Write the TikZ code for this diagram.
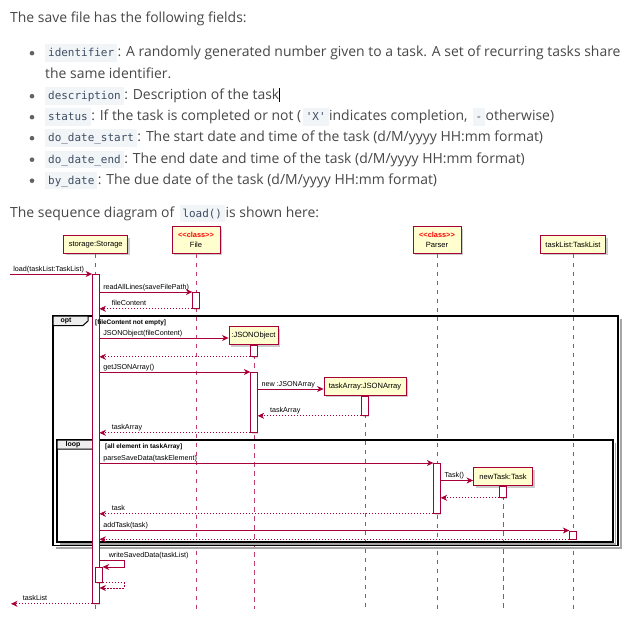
\documentclass[tikz,border=0pt]{standalone}
\usepackage{fontspec}
\newfontfamily\bodyfont{Open Sans}
\newfontfamily\codefont{DejaVu Sans Mono}
\newfontfamily\dfont{Liberation Sans}
\usetikzlibrary{arrows.meta,shadows}
\definecolor{txt}{HTML}{474747}
\definecolor{codebg}{HTML}{F2F5F8}
\definecolor{codetxt}{HTML}{3E4E62}
\definecolor{pred}{HTML}{A80036}
\definecolor{pfill}{HTML}{FEFECE}
\definecolor{tabfill}{HTML}{EEEEEE}
\newcommand\cd[1]{\kern1.5bp{\setlength{\fboxsep}{0pt}\colorbox{codebg}{\kern3bp\vrule height12.8bp depth4.8bp width0pt{\codefont\fontsize{11}{13}\selectfont\color{codetxt}#1}\kern3bp}}\kern0.5bp}
\newcommand\stereo{\bfseries\fontsize{7.4}{10}\selectfont\color{red}}
\begin{document}
\begin{tikzpicture}[x=1bp,y=-1bp,
  body/.style={anchor=base west, inner sep=0pt, font=\bodyfont\fontsize{14}{17}\selectfont, text=txt},
  bul/.style={circle, fill=txt!85, inner sep=0pt, minimum size=4.6bp},
  part/.style={draw=pred, fill=pfill, line width=0.9bp, inner sep=0pt, anchor=south,
    font=\dfont\fontsize{7.6}{10}\selectfont,
    drop shadow={shadow xshift=2bp, shadow yshift=-2bp, opacity=0.2, fill=black}},
  lifeline/.style={draw=pred!75, line width=0.6bp, dash pattern=on 4.5bp off 4.5bp},
  act/.style={draw=pred, fill=white, line width=0.8bp, minimum width=6.5bp, inner sep=0pt, anchor=north,
    drop shadow={shadow xshift=1.2bp, shadow yshift=-1.2bp, opacity=0.15, fill=black}},
  msg/.style={draw=pred, line width=0.8bp, -{Stealth[length=6.5bp,width=6bp,inset=2bp]}},
  ret/.style={msg, dash pattern=on 1.5bp off 1.5bp},
  lbl/.style={font=\dfont\fontsize{7.2}{8}\selectfont, anchor=base west, inner sep=0pt, text=black, xshift=3.5bp, yshift=3bp},
  rlbl/.style={lbl, xshift=8.5bp},
  frame/.style={draw=black, line width=1.4bp},
  fshadow/.style={draw=black!35, line width=2bp},
  tab/.style={draw=black, fill=tabfill, line width=1bp},
  ftitle/.style={font=\dfont\bfseries\fontsize{7}{8}\selectfont, inner sep=0pt},
  cond/.style={font=\dfont\bfseries\fontsize{6.5}{7}\selectfont, anchor=base west, inner sep=0pt}
]
\useasboundingbox (0,0) rectangle (635,638);
\fill[white] (0,0) rectangle (635,638);

% ---------- text ----------
\node[body] (t1) at (10,23) {The save file has the following fields:};
\node[bul] (b1) at (32,53.2) {};
\node[body] (t2) at (43.5,57) {\cd{identifier}: A randomly generated number given to a task. A set of recurring tasks share};
\node[body] (t3) at (45,78.5) {the same identifier.};
\node[bul] (b2) at (32,96.2) {};
\node[body] (t4) at (43.5,100) {\cd{description}: Description of the task{\color{black}\rule[-2bp]{0.8bp}{14bp}}};
\node[bul] (b3) at (32,117.2) {};
\node[body] (t5) at (43.5,121) {\cd{status}: If the task is completed or not (\cd{\textquotesingle X\textquotesingle} indicates completion, \cd{-} otherwise)};
\node[bul] (b4) at (32,138.2) {};
\node[body] (t6) at (43.5,142) {\cd{do\_date\_start}: The start date and time of the task (d/M/yyyy HH:mm format)};
\node[bul] (b5) at (32,159.7) {};
\node[body] (t7) at (43.5,163.5) {\cd{do\_date\_end}: The end date and time of the task (d/M/yyyy HH:mm format)};
\node[bul] (b6) at (32,180.7) {};
\node[body] (t8) at (43.5,184.5) {\cd{by\_date}: The due date of the task (d/M/yyyy HH:mm format)};
\node[body] (t9) at (10,217.5) {The sequence diagram of \cd{load()} is shown here:};

% ---------- diagram ----------
\coordinate (bot) at (0,609);

% participants
\node[part, minimum width=64bp, minimum height=17.5bp] (pS) at (95.75,253.5) {storage:Storage};
\node[part, minimum width=48bp, minimum height=26.5bp, align=center] (pF) at (196,253.5) {{\stereo <<class>>}\\File};
\node[part, minimum width=48bp, minimum height=26.5bp, align=center] (pP) at (437,253.5) {{\stereo <<class>>}\\Parser};
\node[part, minimum width=65bp, minimum height=17.5bp] (pL) at (573,253.5) {taskList:TaskList};
\node[part, minimum width=49bp, minimum height=18bp] (pJ) at (253.5,345) {:JSONObject};
\node[part, minimum width=82bp, minimum height=18bp] (pA) at (365,395.5) {taskArray:JSONArray};
\node[part, minimum width=59bp, minimum height=18bp] (pT) at (503,486) {newTask:Task};

% lifelines
\foreach \p in {pS,pF,pP,pL,pA,pT}
  \draw[lifeline] (\p.south) -- (\p.south |- bot);
\coordinate (jl) at (254,345);
\draw[lifeline] (jl) -- (jl |- bot);

% frames
\draw[fshadow] (56,548.2) -- (620.6,548.2) -- (620.6,319);
\draw[frame] (53,316) rectangle (618,545.5);
\draw[tab] (53,316) -- (88,316) -- (88,321) -- (83,325.5) -- (53,325.5) -- cycle;

\draw[fshadow, line width=1.5bp] (60,544) -- (615.5,544) -- (615.5,443);
\draw[frame] (57,440) rectangle (613,542);
\draw[tab] (57,440) -- (97,440) -- (97,444.5) -- (92,449) -- (57,449) -- cycle;

% activations
\node[act, minimum height=329bp] (aS) at (95.75,274) {};
\node[act, minimum height=16bp] (aF) at (196,292) {};
\node[act, minimum height=11bp] (aJ1) at (254,345) {};
\node[act, minimum height=60bp] (aJ2) at (254,372) {};
\node[act, minimum height=19.5bp] (aA) at (365,395.5) {};
\node[act, minimum height=50bp] (aP) at (437,463) {};
\node[act, minimum height=11bp] (aT) at (503,486) {};
\node[act, minimum height=8bp] (aL) at (573,530.5) {};
\node[act, minimum height=15bp] (aN) at (99,567) {};

% frame labels
\node[ftitle] (optL) at (66,321) {opt};
\node[cond] (optC) at (95,324) {[fileContent not empty]};
\node[ftitle] (loopL) at (73,445) {loop};
\node[cond] (loopC) at (105,448) {[all element in taskArray]};

% messages
\coordinate (in) at (10,274);
\draw[msg] (in) -- (aS.north west) node[lbl,pos=0,xshift=-0.5bp]{load(taskList:TaskList)};
\draw[msg] (aS.east |- aF.north) -- (aF.north west) node[lbl,pos=0]{readAllLines(saveFilePath)};
\draw[ret] (aF.south west) -- (aS.east |- aF.south) node[rlbl,pos=1]{fileContent};
\coordinate (y4) at (0,338);
\draw[msg] (aS.east |- y4) -- (pJ.west |- y4) node[lbl,pos=0]{JSONObject(fileContent)};
\draw[ret] (aJ1.south west) -- (aS.east |- aJ1.south);
\draw[msg] (aS.east |- aJ2.north) -- (aJ2.north west) node[lbl,pos=0]{getJSONArray()};
\coordinate (y7) at (0,389);
\draw[msg] (aJ2.east |- y7) -- (pA.west |- y7) node[lbl,pos=0]{new :JSONArray};
\draw[ret] (aA.south west) -- (aJ2.east |- aA.south) node[rlbl,pos=1]{taskArray};
\draw[ret] (aJ2.south west) -- (aS.east |- aJ2.south) node[rlbl,pos=1]{taskArray};
\draw[msg] (aS.east |- aP.north) -- (aP.north west) node[lbl,pos=0]{parseSaveData(taskElement)};
\coordinate (y11) at (0,480.5);
\draw[msg] (aP.east |- y11) -- (pT.west |- y11) node[lbl,pos=0]{Task()};
\draw[ret] (aT.south west) -- (aP.east |- aT.south);
\draw[ret] (aP.south west) -- (aS.east |- aP.south) node[rlbl,pos=1]{task};
\draw[msg] (aS.east |- aL.north) -- (aL.north west) node[lbl,pos=0]{addTask(task)};
\draw[ret] (aL.south west) -- (aS.east |- aL.south);
\coordinate (w1) at (124,560.7);
\draw[msg] (aS.east |- w1) node[lbl,xshift=5.5bp]{writeSavedData(taskList)} -- (w1) -- (w1 |- aN.north) -- (aN.north east);
\coordinate (w2) at (124,588);
\draw[ret] (aN.south east) -- (w2 |- aN.south) -- (w2) -- (aS.east |- w2);
\coordinate (out) at (11,602);
\draw[ret] (aS.south west) -- (out |- aS.south west) node[rlbl,pos=1,xshift=-0.5bp]{taskList};
\end{tikzpicture}
\end{document}
